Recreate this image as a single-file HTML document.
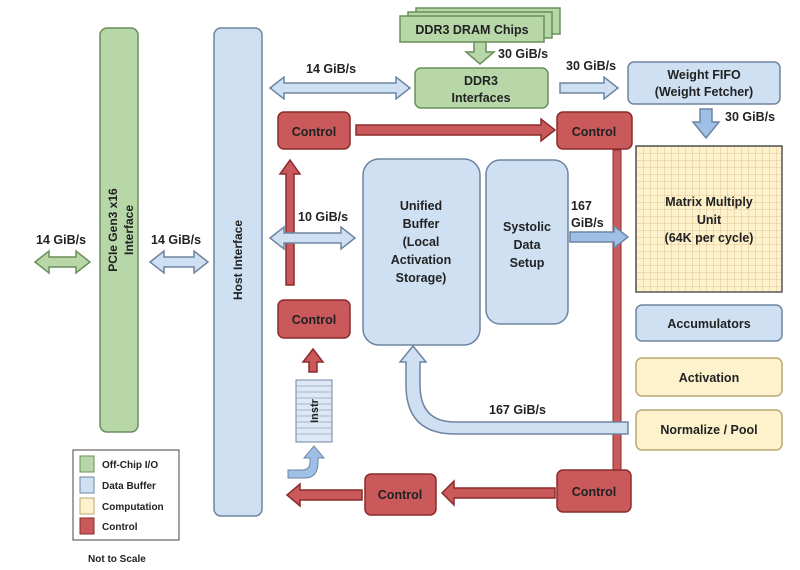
<!DOCTYPE html>
<html><head><meta charset="utf-8"><style>
html,body{margin:0;padding:0;background:#fff;}
svg{display:block;}
text{font-family:"Liberation Sans",Arial,sans-serif;font-weight:bold;fill:#222;}
</style></head><body>
<svg width="800" height="570" viewBox="0 0 800 570" xmlns="http://www.w3.org/2000/svg">
<defs>
<pattern id="grid" width="7" height="7" patternUnits="userSpaceOnUse">
<rect width="7" height="7" fill="#fdf2cc"/>
<path d="M7 0V7M0 7H7" stroke="#d9b98a" stroke-width="0.8"/>
</pattern>
</defs>
<g stroke-width="1.5">
<!-- PCIe -->
<rect x="100" y="28" width="38" height="404" rx="7" fill="#b7d7a8" stroke="#6a8f5a"/>
<text x="117" y="230" font-size="12" text-anchor="middle" transform="rotate(-90 117 230)">PCIe Gen3 x16</text>
<text x="133" y="230" font-size="12" text-anchor="middle" transform="rotate(-90 133 230)">Interface</text>
<!-- Host -->
<rect x="214" y="28" width="48" height="488" rx="7" fill="#cfe0f3" stroke="#6f84a0"/>
<text x="242" y="260" font-size="12" text-anchor="middle" transform="rotate(-90 242 260)">Host Interface</text>
<!-- arrows left -->
<polygon points="35,262 49,251 49,257 76,257 76,251 90,262 76,273 76,267 49,267 49,273" fill="#b7d7a8" stroke="#6a8f5a"/>
<polygon points="150,262 164,251 164,257 194,257 194,251 208,262 194,273 194,267 164,267 164,273" fill="#cfe0f3" stroke="#6f84a0"/>
<polygon points="286,285 286,174 280,174 290,160 300,174 294,174 294,285" fill="#c9595a" stroke="#8b2b2b"/>
<polygon points="270,238 284,227 284,233 341,233 341,227 355,238 341,249 341,243 284,243 284,249" fill="#cfe0f3" stroke="#6f84a0"/>
<polygon points="270,88 284,77 284,83 396,83 396,77 410,88 396,99 396,93 284,93 284,99" fill="#cfe0f3" stroke="#6f84a0"/>
<!-- DRAM chips -->
<rect x="416" y="8" width="144" height="26" fill="#b7d7a8" stroke="#6a8f5a"/>
<rect x="408" y="12" width="144" height="26" fill="#b7d7a8" stroke="#6a8f5a"/>
<rect x="400" y="16" width="144" height="26" fill="#b7d7a8" stroke="#6a8f5a"/>
<text x="472" y="34" font-size="12.5" text-anchor="middle">DDR3 DRAM Chips</text>
<polygon points="474,42 486,42 486,52 494,52 480,64 466,52 474,52" fill="#b7d7a8" stroke="#6a8f5a"/>
<rect x="415" y="68" width="133" height="40" rx="6" fill="#b7d7a8" stroke="#6a8f5a"/>
<text x="481" y="85" font-size="12.5" text-anchor="middle">DDR3</text>
<text x="481" y="102" font-size="12.5" text-anchor="middle">Interfaces</text>
<polygon points="560,83 604,83 604,77 618,88 604,99 604,93 560,93" fill="#cfe0f3" stroke="#6f84a0"/>
<rect x="628" y="62" width="152" height="42" rx="6" fill="#cfe0f3" stroke="#6f84a0"/>
<text x="704" y="79" font-size="12.5" text-anchor="middle">Weight FIFO</text>
<text x="704" y="96" font-size="12.5" text-anchor="middle">(Weight Fetcher)</text>
<polygon points="700,109 712,109 712,122 719,122 706,138 693,122 700,122" fill="#9fc0e6" stroke="#6f84a0"/>
<!-- Matrix -->
<rect x="636" y="146" width="146" height="146" fill="url(#grid)" stroke="#555"/>
<text x="709" y="206" font-size="12.5" text-anchor="middle">Matrix Multiply</text>
<text x="709" y="224" font-size="12.5" text-anchor="middle">Unit</text>
<text x="709" y="242" font-size="12.5" text-anchor="middle">(64K per cycle)</text>
<rect x="636" y="305" width="146" height="36" rx="6" fill="#cfe0f3" stroke="#6f84a0"/>
<text x="709" y="328" font-size="12.5" text-anchor="middle">Accumulators</text>
<rect x="636" y="358" width="146" height="38" rx="6" fill="#fdf2cc" stroke="#b9a875"/>
<text x="709" y="382" font-size="12.5" text-anchor="middle">Activation</text>
<rect x="636" y="410" width="146" height="40" rx="6" fill="#fdf2cc" stroke="#b9a875"/>
<text x="709" y="434" font-size="12.5" text-anchor="middle">Normalize / Pool</text>
<!-- Unified buffer / systolic -->
<rect x="363" y="159" width="117" height="186" rx="16" fill="#cfe0f3" stroke="#6f84a0"/>
<text x="421" y="210" font-size="12.5" text-anchor="middle">Unified</text>
<text x="421" y="228" font-size="12.5" text-anchor="middle">Buffer</text>
<text x="421" y="246" font-size="12.5" text-anchor="middle">(Local</text>
<text x="421" y="264" font-size="12.5" text-anchor="middle">Activation</text>
<text x="421" y="282" font-size="12.5" text-anchor="middle">Storage)</text>
<rect x="486" y="160" width="82" height="164" rx="14" fill="#cfe0f3" stroke="#6f84a0"/>
<text x="527" y="231" font-size="12.5" text-anchor="middle">Systolic</text>
<text x="527" y="249" font-size="12.5" text-anchor="middle">Data</text>
<text x="527" y="267" font-size="12.5" text-anchor="middle">Setup</text>
<!-- red vertical bar -->
<rect x="613" y="150" width="8" height="322" fill="#c9595a" stroke="#8b2b2b" stroke-width="1"/>
<polygon points="570,232 614,232 614,226 628,237 614,248 614,242 570,242" fill="#9fc0e6" stroke="#6f84a0"/>
<!-- curved return arrow -->
<path d="M628,434 L455,434 Q406,434 406,385 L406,362 L400,362 L413,346 L426,362 L420,362 L420,385 Q420,422 455,422 L628,422 Z" fill="#cfe0f3" stroke="#6f84a0"/>
<!-- Controls -->
<rect x="278" y="112" width="72" height="37" rx="6" fill="#c9595a" stroke="#8b2b2b"/>
<text x="314" y="136" font-size="12.5" text-anchor="middle">Control</text>
<rect x="557" y="112" width="75" height="37" rx="6" fill="#c9595a" stroke="#8b2b2b"/>
<text x="594" y="136" font-size="12.5" text-anchor="middle">Control</text>
<rect x="278" y="300" width="72" height="38" rx="6" fill="#c9595a" stroke="#8b2b2b"/>
<text x="314" y="324" font-size="12.5" text-anchor="middle">Control</text>
<rect x="365" y="474" width="71" height="41" rx="6" fill="#c9595a" stroke="#8b2b2b"/>
<text x="400" y="499" font-size="12.5" text-anchor="middle">Control</text>
<rect x="557" y="470" width="74" height="42" rx="6" fill="#c9595a" stroke="#8b2b2b"/>
<text x="594" y="496" font-size="12.5" text-anchor="middle">Control</text>
<!-- red arrows -->
<polygon points="356,125 541,125 541,119 555,130 541,141 541,135 356,135" fill="#c9595a" stroke="#8b2b2b"/>
<polygon points="309,372 309,362 303,362 313,349 323,362 317,362 317,372" fill="#c9595a" stroke="#8b2b2b"/>
<polygon points="555,488 454,488 454,481 442,493 454,505 454,498 555,498" fill="#c9595a" stroke="#8b2b2b"/>
<polygon points="362,490 300,490 300,484 287,495 300,506 300,500 362,500" fill="#c9595a" stroke="#8b2b2b"/>
<!-- Instr -->
<rect x="296" y="380" width="36" height="62" fill="#dfe8f5" stroke="#6f84a0" stroke-width="1"/>
<path d="M296,386H332M296,392H332M296,398H332M296,404H332M296,410H332M296,416H332M296,422H332M296,428H332M296,434H332" stroke="#8ea4c0" stroke-width="0.8"/>
<text x="314" y="411" font-size="11" text-anchor="middle" transform="rotate(-90 314 411)" dy="4">Instr</text>
<path d="M288,478 L305,478 Q318,478 318,462 L318,458 L324,458 L314,446 L304,458 L310,458 L310,462 Q310,470 302,470 L288,470 Z" fill="#9fc0e6" stroke="#6f84a0" stroke-width="1"/>
<!-- legend -->
<rect x="73" y="450" width="106" height="90" fill="#fff" stroke="#444" stroke-width="1"/>
<rect x="80" y="456" width="14" height="16" fill="#b7d7a8" stroke="#6a8f5a" stroke-width="1"/>
<rect x="80" y="477" width="14" height="16" fill="#cfe0f3" stroke="#6f84a0" stroke-width="1"/>
<rect x="80" y="498" width="14" height="16" fill="#fdf2cc" stroke="#b9a875" stroke-width="1"/>
<rect x="80" y="518" width="14" height="16" fill="#c9595a" stroke="#8b2b2b" stroke-width="1"/>
</g>
<text x="102" y="468" font-size="10">Off-Chip I/O</text>
<text x="102" y="489" font-size="10">Data Buffer</text>
<text x="102" y="510" font-size="10">Computation</text>
<text x="102" y="530" font-size="10">Control</text>
<text x="88" y="562" font-size="10">Not to Scale</text>
<!-- labels -->
<text x="36" y="244" font-size="12.5">14 GiB/s</text>
<text x="151" y="244" font-size="12.5">14 GiB/s</text>
<text x="298" y="221" font-size="12.5">10 GiB/s</text>
<text x="306" y="73" font-size="12.5">14 GiB/s</text>
<text x="498" y="58" font-size="12.5">30 GiB/s</text>
<text x="566" y="70" font-size="12.5">30 GiB/s</text>
<text x="725" y="121" font-size="12.5">30 GiB/s</text>
<text x="571" y="210" font-size="12.5">167</text>
<text x="571" y="227" font-size="12.5">GiB/s</text>
<text x="489" y="414" font-size="12.5">167 GiB/s</text>
</svg>
</body></html>
